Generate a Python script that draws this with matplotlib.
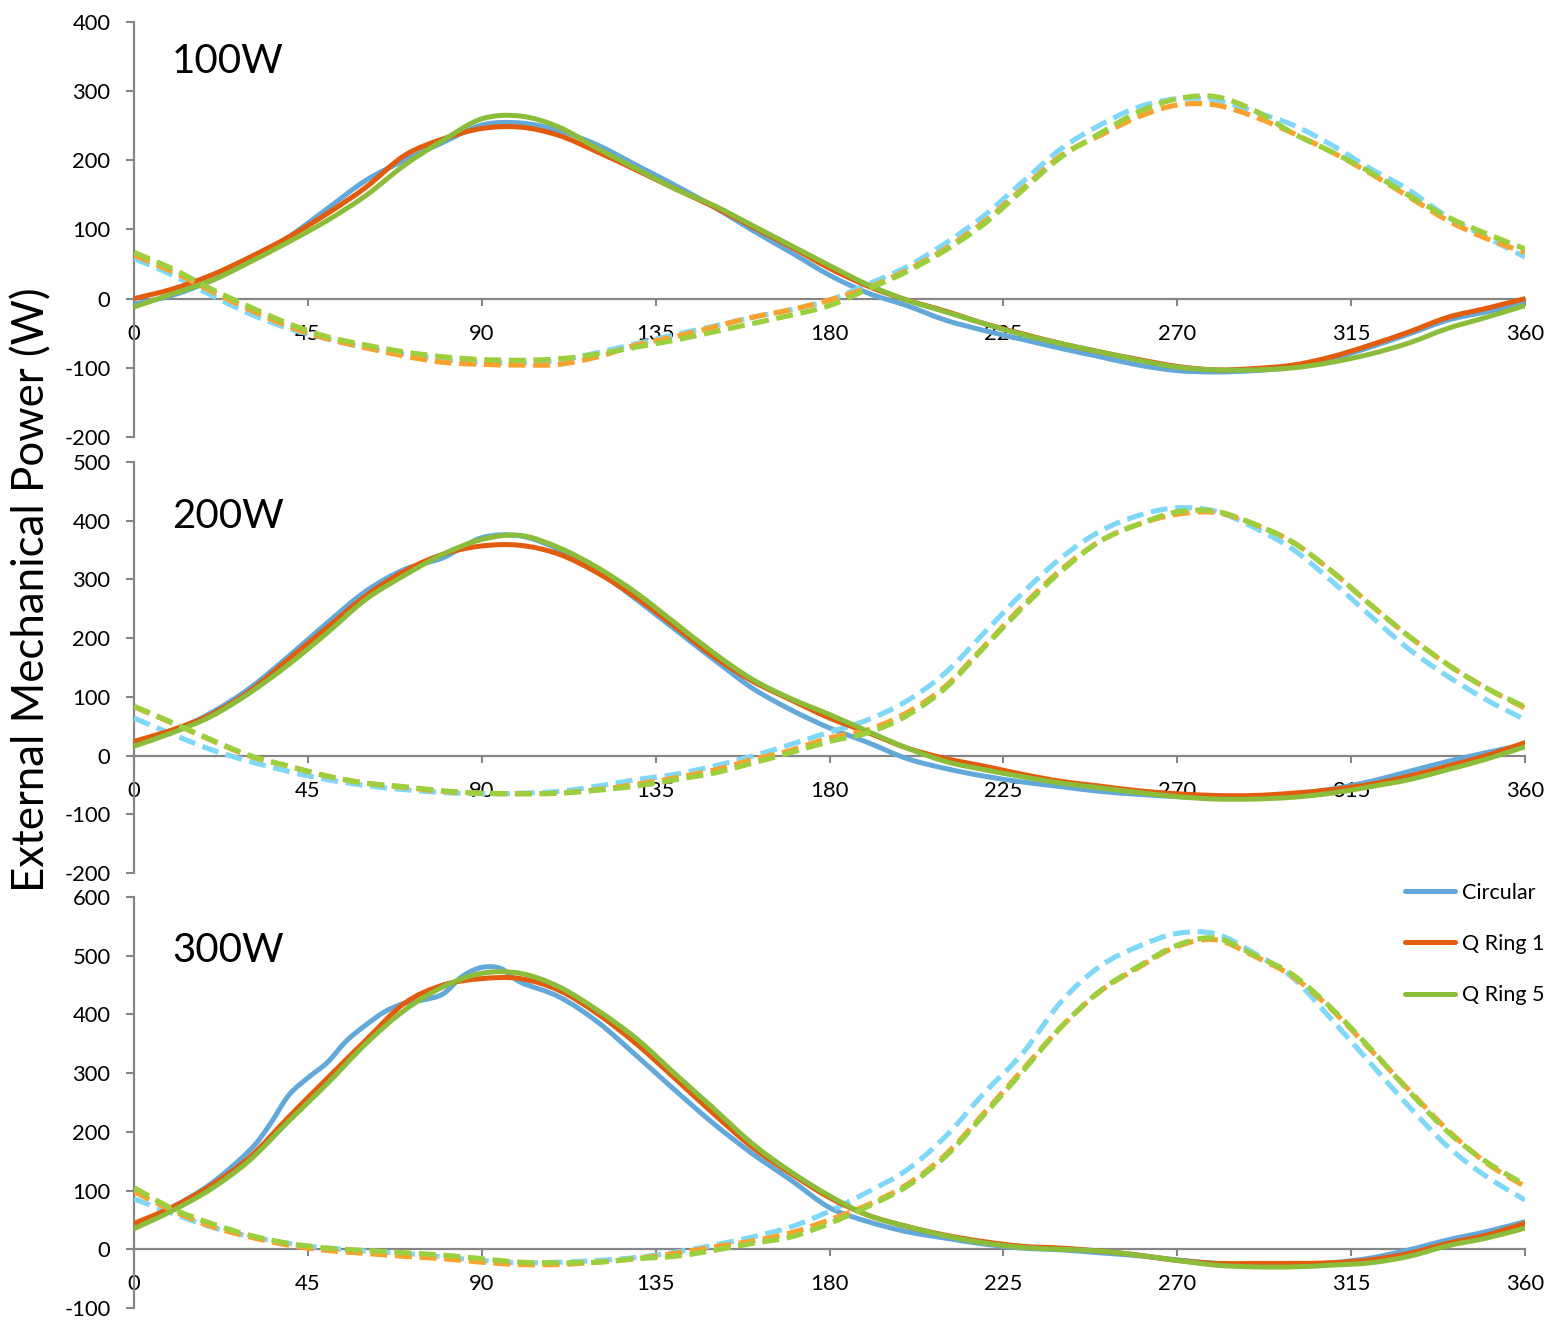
"""External mechanical power over the crank cycle: circular vs Q Ring chainrings.

Three stacked panels (100 W, 200 W, 300 W). Solid = one leg, dashed = opposite leg.
Lines are drawn Excel-style: a smooth Bezier path through the read points.
Output: out.png
"""
import matplotlib

matplotlib.use("Agg")
import matplotlib.pyplot as plt
from matplotlib.lines import Line2D
from matplotlib.patches import PathPatch
from matplotlib.path import Path
import numpy as np

ANGLE = np.arange(0, 361, 10)
ANGLE_300_CIRC = [0, 10, 20, 30, 35, 40, 45, 50, 55, 60, 65, 70, 75, 80, 85, 90, 95, 100,
                  110, 120, 130, 140, 150, 160, 170, 180, 190, 200, 210, 220, 230, 240,
                  250, 260, 270, 280, 290, 300, 310, 320, 330, 340, 350, 360]

# ---- 100 W ----
P100_CIRC = [-8, 5, 26, 54, 89, 130, 171, 200, 226, 251, 254, 243, 222, 193, 164, 133, 99, 67, 34,
             8, -10, -31, -46, -59, -72, -84, -96, -104, -106, -104, -99, -87, -70, -51, -31, -19, -7]
P100_QR1 = [0, 14, 34, 60, 89, 123, 161, 207, 231, 246, 248, 236, 212, 186, 159, 133, 104, 75, 44,
            18, -2, -18, -36, -51, -65, -77, -88, -98, -103, -101, -96, -84, -67, -48, -27, -14, 0]
P100_QR5 = [-12, 7, 26, 53, 82, 113, 149, 193, 229, 260, 264, 248, 217, 188, 159, 135, 106, 77, 48,
            20, -2, -19, -36, -52, -65, -77, -89, -99, -103, -103, -100, -92, -80, -64, -43, -27, -10]
P100_CIRC_OPP = [58, 34, 5, -22, -43, -58, -71, -80, -88, -92, -93, -89, -78, -65, -52, -40, -27, -16, -2,
                 21, 46, 80, 120, 169, 217, 251, 277, 289, 287, 270, 251, 222, 188, 157, 118, 89, 60]
P100_QR1_OPP = [63, 39, 11, -16, -40, -58, -71, -83, -92, -95, -96, -95, -84, -67, -55, -41, -27, -16, -2,
                16, 41, 72, 111, 159, 207, 236, 263, 280, 280, 263, 239, 212, 181, 147, 113, 87, 67]
P100_QR5_OPP = [67, 43, 14, -12, -36, -55, -67, -77, -84, -88, -89, -87, -80, -70, -60, -48, -36, -24, -10,
                14, 39, 70, 108, 157, 205, 239, 270, 289, 292, 272, 239, 212, 183, 149, 118, 94, 72]

# ---- 200 W ----
P200_CIRC = [19, 41, 73, 115, 169, 226, 280, 317, 337, 371, 374, 351, 314, 266, 215, 164, 115, 78, 47,
             22, -5, -22, -35, -45, -53, -61, -66, -70, -72, -70, -66, -57, -44, -27, -10, 5, 19]
P200_QR1 = [24, 44, 70, 110, 164, 218, 272, 314, 343, 357, 358, 343, 311, 269, 220, 169, 127, 95, 64,
            39, 13, -5, -18, -32, -44, -52, -60, -65, -68, -68, -64, -58, -49, -35, -18, 0, 22]
P200_QR5 = [16, 39, 67, 107, 155, 209, 266, 307, 343, 368, 375, 354, 320, 277, 226, 175, 130, 97, 70,
            41, 13, -10, -24, -36, -47, -55, -63, -70, -74, -74, -71, -64, -53, -41, -24, -6, 15]
P200_CIRC_OPP = [64, 36, 10, -10, -27, -41, -51, -58, -63, -65, -64, -61, -52, -41, -32, -18, -1, 19, 40,
                 61, 93, 141, 209, 277, 337, 382, 409, 422, 416, 388, 351, 297, 238, 181, 135, 95, 61]
P200_QR1_OPP = [83, 55, 26, -1, -18, -35, -47, -54, -61, -64, -65, -64, -58, -49, -38, -25, -7, 9, 30,
                44, 73, 118, 186, 255, 317, 365, 394, 411, 414, 394, 363, 314, 257, 203, 155, 115, 81]
P200_QR5_OPP = [84, 56, 27, 0, -18, -35, -47, -53, -60, -64, -65, -64, -59, -52, -41, -30, -13, 5, 24,
                39, 68, 115, 184, 252, 314, 365, 394, 415, 416, 394, 363, 314, 257, 203, 155, 115, 83]

# ---- 300 W ----
P300_CIRC = [41, 72, 112, 169, 211, 262, 292, 318, 355, 382, 405, 419, 425, 435, 465, 480, 478, 455,
             430, 387, 330, 271, 214, 163, 118, 71, 47, 30, 19, 9, 2, -1,
             -6, -11, -18, -24, -27, -27, -23, -15, -1, 16, 30, 47]
P300_QR1 = [44, 72, 109, 157, 225, 291, 356, 419, 450, 461, 461, 441, 401, 350, 291, 231, 174, 129, 88,
            58, 39, 24, 13, 5, 2, -3, -10, -19, -24, -24, -24, -23, -18, -7, 10, 24, 44]
P300_QR5 = [35, 66, 103, 152, 218, 282, 350, 407, 447, 470, 470, 447, 407, 359, 299, 240, 180, 132, 91,
            58, 39, 23, 11, 3, 0, -3, -10, -19, -27, -30, -30, -27, -23, -12, 6, 19, 36]
P300_CIRC_OPP = [86, 61, 38, 22, 10, 2, -3, -7, -13, -19, -23, -22, -19, -14, -5, 7, 21, 38, 65,
                 98, 135, 192, 266, 334, 422, 482, 516, 538, 537, 504, 462, 391, 317, 243, 175, 124, 84]
P300_QR1_OPP = [98, 66, 39, 21, 7, -2, -7, -12, -16, -22, -26, -26, -22, -16, -7, 4, 14, 28, 50,
                76, 110, 161, 232, 306, 379, 439, 480, 516, 527, 499, 464, 408, 340, 271, 203, 147, 107]
P300_QR5_OPP = [105, 69, 44, 24, 10, 2, -2, -6, -10, -16, -22, -23, -22, -16, -12, -2, 10, 21, 44,
                73, 107, 158, 229, 303, 379, 440, 482, 518, 530, 501, 467, 410, 342, 269, 200, 149, 110]

SERIES = ["Circular", "Q Ring 1", "Q Ring 5"]
PANEL_LABELS = ["100W", "200W", "300W"]
YLIMS = [(-200, 400), (-200, 500), (-100, 600)]

SOLID_COLORS = ["#62a8d8", "#e35b0c", "#8bbd3b"]
DASH_COLORS = ["#80d8f8", "#f9a22e", "#9ccf3e"]
GREY = "#868686"
FONT = ["Lato", "DejaVu Sans"]

W, H = 1557, 1326
AX_LEFT, AX_RIGHT = 134, 1525
# (top px, bottom px) of each panel
PANEL_PX = [(22, 437), (462, 873), (897, 1308)]
LABEL_BASE = [0.878, 0.839, 0.842]


def smooth_path(x, y):
    """Catmull-Rom through the points, as cubic Beziers (like Excel's smoothed line)."""
    p = np.column_stack([np.asarray(x, float), np.asarray(y, float)])
    ext = np.vstack([p[0], p, p[-1]])
    verts = [p[0]]
    codes = [Path.MOVETO]
    for i in range(1, len(ext) - 2):
        p0, p1, p2, p3 = ext[i - 1], ext[i], ext[i + 1], ext[i + 2]
        verts += [p1 + (p2 - p0) / 6, p2 - (p3 - p1) / 6, p2]
        codes += [Path.CURVE4] * 3
    return Path(verts, codes)


def style_axis(ax, ylim):
    ax.set_xlim(0, 360)
    ax.set_ylim(*ylim)
    ax.patch.set_alpha(0)
    for s in ("top", "right"):
        ax.spines[s].set_visible(False)
    for s in ("left", "bottom"):
        ax.spines[s].set_color(GREY)
        ax.spines[s].set_linewidth(1.6)
    ax.spines["bottom"].set_position(("data", 0))
    ax.set_xticks(range(0, 361, 45))
    ax.set_yticks(range(ylim[0], ylim[1] + 1, 100))
    ax.tick_params(axis="x", direction="out", length=5, width=1.5, color=GREY,
                   pad=13, labelsize=15.8)
    ax.tick_params(axis="y", direction="out", length=6, width=1.5, color=GREY,
                   pad=11, labelsize=15.8)


def main() -> None:
    plt.rcParams["font.family"] = FONT
    plt.rcParams["axes.unicode_minus"] = False
    fig = plt.figure(figsize=(W / 100, H / 100), dpi=100)

    data = [
        ([P100_CIRC, P100_QR1, P100_QR5], [P100_CIRC_OPP, P100_QR1_OPP, P100_QR5_OPP]),
        ([P200_CIRC, P200_QR1, P200_QR5], [P200_CIRC_OPP, P200_QR1_OPP, P200_QR5_OPP]),
        ([P300_CIRC, P300_QR1, P300_QR5], [P300_CIRC_OPP, P300_QR1_OPP, P300_QR5_OPP]),
    ]

    for i, (top, bot) in enumerate(PANEL_PX):
        ax = fig.add_axes([AX_LEFT / W, 1 - bot / H, (AX_RIGHT - AX_LEFT) / W, (bot - top) / H])
        style_axis(ax, YLIMS[i])
        solids, opps = data[i]
        for k in range(3):
            x = ANGLE_300_CIRC if (i == 2 and k == 0) else ANGLE
            ax.add_patch(PathPatch(smooth_path(x, solids[k]), fill=False,
                                   edgecolor=SOLID_COLORS[k], lw=3.6, joinstyle="round",
                                   capstyle="round", zorder=3 + 2 * k))
            ax.add_patch(PathPatch(smooth_path(ANGLE, opps[k]), fill=False,
                                   edgecolor=DASH_COLORS[k], lw=3.7, linestyle=(0, (3.3, 1.5)),
                                   capstyle="butt", zorder=4 + 2 * k))
        ax.text(0.0273, LABEL_BASE[i], PANEL_LABELS[i], transform=ax.transAxes,
                fontsize=29, va="baseline", ha="left")

    fig.text(32 / W, 1 - 590 / H, "External Mechanical Power (W)", rotation=90,
             fontsize=31.5, ha="center", va="center")

    handles = [Line2D([], [], color=c, lw=3.6, solid_capstyle="round") for c in SOLID_COLORS]
    fig.legend(handles, SERIES, loc="center left",
               bbox_to_anchor=(1405 / W, 1 - 944 / H), bbox_transform=fig.transFigure,
               frameon=False, fontsize=15.5, handlelength=2.33, handletextpad=0.33,
               labelspacing=1.45, borderpad=0, borderaxespad=0)

    fig.savefig("out.png", dpi=100)
    plt.close(fig)


if __name__ == "__main__":
    main()
